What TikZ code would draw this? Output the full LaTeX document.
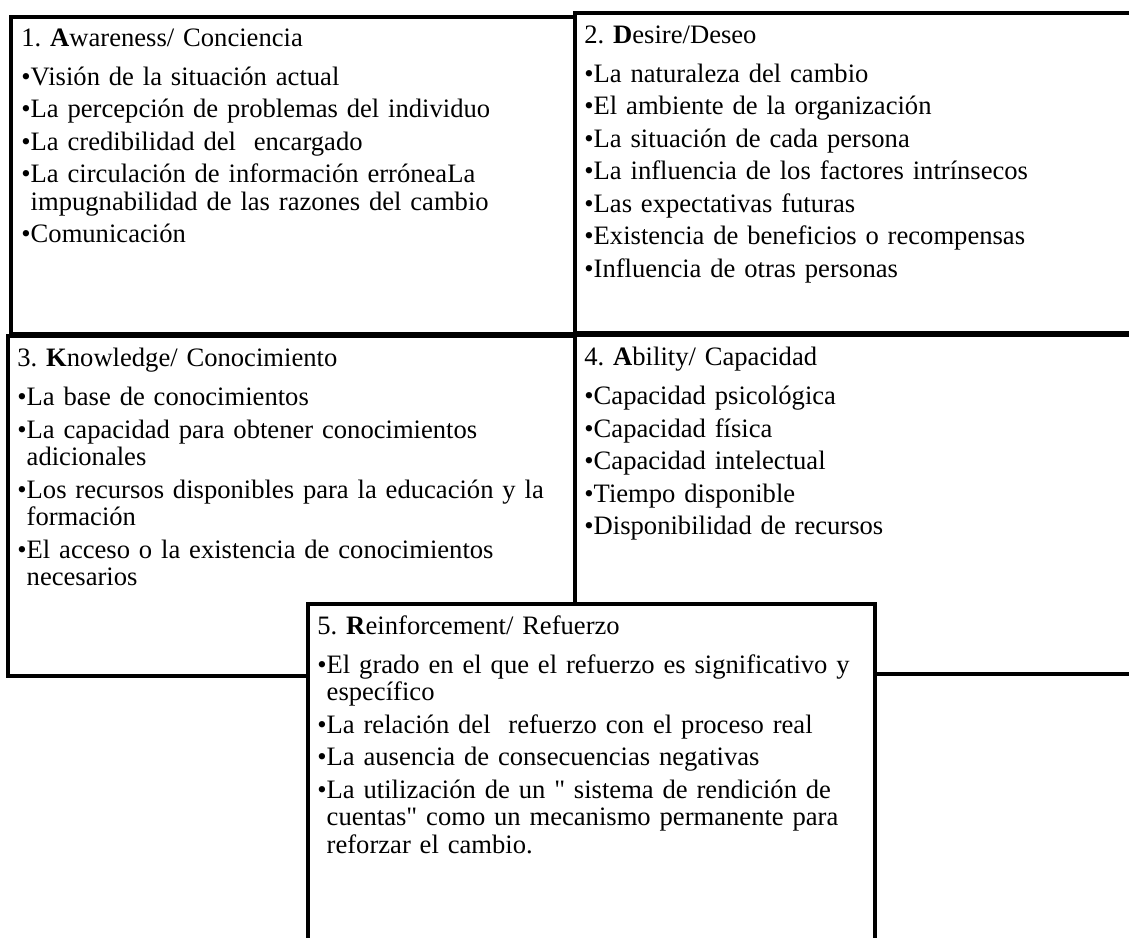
\documentclass[tikz,border=0pt]{standalone}
\usepackage{fontspec}
\setmainfont{Liberation Serif}
\usetikzlibrary{positioning}

\newcommand{\hd}[1]{\setlength{\parskip}{2.5pt}\noindent#1\par\vspace{3.25pt}}
\newcommand{\itm}[1]{\par\noindent\setbox0\hbox{\textbullet}\hangindent=\wd0 \hangafter=1 \box0 #1}

\tikzset{
  box/.style={line width=2pt},
  txt/.style={anchor=north west, inner sep=0pt, text width=280pt, align=left,
    font=\fontsize{13.3}{13.75}\selectfont},
}

\begin{document}
\begin{tikzpicture}[x=0.5pt,y=-0.5pt]
	\useasboundingbox (0,0) rectangle (1129,937);
	\clip (0,0) rectangle (1129,937);

	\draw [box] (11,17) rectangle (575,334);
	\draw [box] (575,13) rectangle (1150,333);
	\draw [box] (8,336) rectangle (575,676);
	\draw [box] (575,335) rectangle (1150,674);
	\draw [box, fill=white] (308,604) rectangle (875,960);

	\node (aw) [txt] at (21,28) {\hd{1.\ \textbf{A}wareness/ Conciencia}
		\itm{Visión de la situación actual}
		\itm{La percepción de problemas del individuo}
		\itm{La credibilidad del\ \ encargado}
		\itm{La circulación de información erróneaLa\newline impugnabilidad de las razones del cambio}
		\itm{Comunicación}\par};

	\node (de) [txt] at (584,25) {\hd{2.\ \textbf{D}esire/Deseo}
		\itm{La naturaleza del cambio}
		\itm{El ambiente de la organización}
		\itm{La situación de cada persona}
		\itm{La influencia de los factores intrínsecos}
		\itm{Las expectativas futuras}
		\itm{Existencia de beneficios o recompensas}
		\itm{Influencia de otras personas}\par};

	\node (kn) [txt] at (17,348) {\hd{3.\ \textbf{K}nowledge/ Conocimiento}
		\itm{La base de conocimientos}
		\itm{La capacidad para obtener conocimientos\newline adicionales}
		\itm{Los recursos disponibles para la educación y la\newline formación}
		\itm{El acceso o la existencia de conocimientos\newline necesarios}\par};

	\node (ab) [txt] at (584,347) {\hd{4.\ \textbf{A}bility/ Capacidad}
		\itm{Capacidad psicológica}
		\itm{Capacidad física}
		\itm{Capacidad intelectual}
		\itm{Tiempo disponible}
		\itm{Disponibilidad de recursos}\par};

	\node (re) [txt] at (317,615) {\hd{5.\ \textbf{R}einforcement/ Refuerzo}
		\itm{El grado en el que el refuerzo es significativo y\newline específico}
		\itm{La relación del\ \ refuerzo con el proceso real}
		\itm{La ausencia de consecuencias negativas}
		\itm{La utilización de un \textquotedbl\ sistema de rendición de\newline cuentas\textquotedbl\ como un mecanismo permanente para\newline reforzar el cambio.}\par};

\end{tikzpicture}
\end{document}
